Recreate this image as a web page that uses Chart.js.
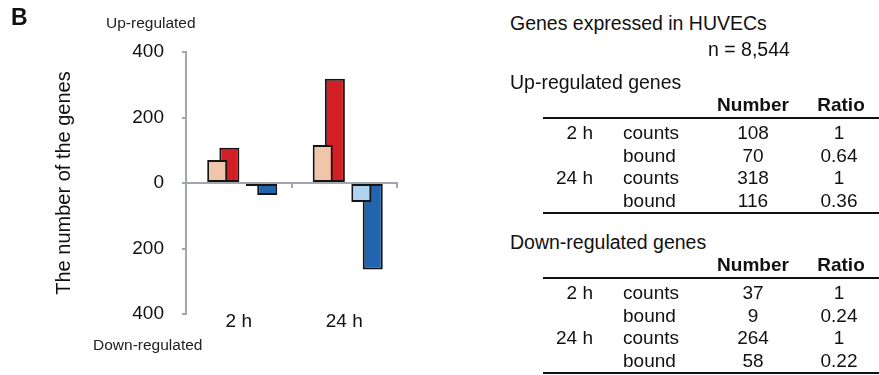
<!DOCTYPE html>
<html>
<head>
<meta charset="utf-8">
<script src="https://cdn.jsdelivr.net/npm/chart.js@4.4.1/dist/chart.umd.min.js"></script>
<style>
  body { margin: 0; background: #fff; font-family: "Liberation Sans", Arial, sans-serif; color: #111; }
  #wrap { position: relative; width: 879px; height: 375px; overflow: hidden; }
  #chartBox { position: absolute; left: 0; top: 0; width: 500px; height: 375px; }
  .t { position: absolute; white-space: nowrap; line-height: 22px; font-size: 19px; }
  .rule { position: absolute; height: 2px; background: #111; left: 543px; width: 336px; }
</style>
</head>
<body>
<div id="wrap">
  <div id="chartBox"><canvas id="chart"></canvas></div>
  <div class="t" style="left:11px;top:3px;font-size:23px;font-weight:bold;line-height:28px">B</div>
  <div class="t" style="left:106px;top:12px;font-size:15.5px;color:#222">Up-regulated</div>
  <div class="t" style="left:93px;top:334px;font-size:15.5px;color:#222">Down-regulated</div>
</div>
<script>
const timePoints = ['2 h', '24 h'];
const upCounts = [108, 318];
const upBound = [70, 116];
const downCounts = [37, 264];
const downBound = [9, 58];
const upBoundRatio = ['0.64', '0.36'];
const downBoundRatio = ['0.24', '0.22'];
const totalGenes = '8,544';
const yMin = -400, yMax = 400, yStep = 200;

const font = '"Liberation Sans", Arial, sans-serif';
const axisGrey = '#a4a6ae';

// bar centre offsets and bar width, as fractions of one category slot
const barOffsets = [-0.204, -0.089, 0.162, 0.270];
const barWidth = 0.19;
function slot(i) {
  const f = (i + 0.5) / barOffsets.length - 0.5;
  const cp = barOffsets[i] / f;
  return { categoryPercentage: cp, barPercentage: barWidth * barOffsets.length / cp };
}

function barSet(label, values, color, i) {
  return Object.assign({
    label: label,
    data: values,
    backgroundColor: color,
    borderColor: '#141414',
    borderWidth: 2,
    borderSkipped: false
  }, slot(i));
}

new Chart(document.getElementById('chart'), {
  type: 'bar',
  data: {
    labels: timePoints,
    datasets: [
      barSet('Up bound', upBound, '#f0c6aa', 0),
      barSet('Up counts', upCounts, '#d21f26', 1),
      barSet('Down bound', downBound.map(v => -v), '#aed4ef', 2),
      barSet('Down counts', downCounts.map(v => -v), '#2264ae', 3)
    ]
  },
  options: {
    responsive: true,
    maintainAspectRatio: false,
    animation: false,
    layout: { padding: { top: 52, right: 103, bottom: 0, left: 0 } },
    plugins: { legend: { display: false }, tooltip: { enabled: false } },
    scales: {
      x: {
        type: 'category',
        position: { y: 0 },
        offset: true,
        ticks: { display: false },
        grid: { offset: true, drawOnChartArea: false, drawTicks: true, tickLength: 4, color: axisGrey, lineWidth: 2 },
        border: { display: true, color: axisGrey, width: 2 }
      },
      xl: {
        type: 'category',
        position: 'bottom',
        offset: true,
        grid: { display: false, drawTicks: false },
        border: { display: false },
        ticks: { color: '#111', font: { family: font, size: 19 }, padding: -4, maxRotation: 0 },
        afterFit: s => { s.height = 61; }
      },
      y: {
        min: yMin,
        max: yMax,
        ticks: {
          stepSize: yStep,
          padding: 18,
          color: '#111',
          font: { family: font, size: 19 },
          callback: v => Math.abs(v)
        },
        grid: { drawOnChartArea: false, drawTicks: true, tickLength: 4, color: axisGrey, lineWidth: 2 },
        border: { display: true, color: axisGrey, width: 2 },
        title: {
          display: true,
          text: 'The number of the genes',
          color: '#111',
          font: { family: font, size: 20 },
          padding: { top: 52, bottom: 0 }
        },
        afterFit: s => { s.width = 186; }
      }
    }
  }
});

// tables on the right
const wrap = document.getElementById('wrap');
function text(str, x, cy, opts) {
  const d = document.createElement('div');
  d.className = 't';
  d.textContent = str;
  d.style.top = (cy - 11) + 'px';
  opts = opts || {};
  if (opts.size) d.style.fontSize = opts.size + 'px';
  if (opts.bold) d.style.fontWeight = 'bold';
  if (opts.align === 'center') {
    d.style.left = (x - 60) + 'px'; d.style.width = '120px'; d.style.textAlign = 'center';
  } else if (opts.align === 'right') {
    d.style.left = (x - 100) + 'px'; d.style.width = '100px'; d.style.textAlign = 'right';
  } else {
    d.style.left = x + 'px';
  }
  wrap.appendChild(d);
}
function rule(y) {
  const r = document.createElement('div');
  r.className = 'rule';
  r.style.top = (y - 1) + 'px';
  wrap.appendChild(r);
}
function table(title, top, counts, bound, ratios) {
  text(title, 510, top, { size: 19.5 });
  text('Number', 753, top + 23, { bold: true, align: 'center' });
  text('Ratio', 841, top + 23, { bold: true, align: 'center' });
  rule(top + 36);
  let y = top + 51;
  timePoints.forEach((tp, i) => {
    text(tp, 593, y, { align: 'right' });
    text('counts', 623, y);
    text(String(counts[i]), 753, y, { align: 'center' });
    text('1', 839, y, { align: 'center' });
    y += 22.5;
    text('bound', 623, y);
    text(String(bound[i]), 753, y, { align: 'center' });
    text(ratios[i], 839, y, { align: 'center' });
    y += 22.5;
  });
  rule(top + 131);
}
text('Genes expressed in HUVECs', 510, 23, { size: 19.5 });
text('n = ' + totalGenes, 708, 49, { size: 19.5 });
table('Up-regulated genes', 82, upCounts, upBound, upBoundRatio);
table('Down-regulated genes', 242, downCounts, downBound, downBoundRatio);
</script>
</body>
</html>
